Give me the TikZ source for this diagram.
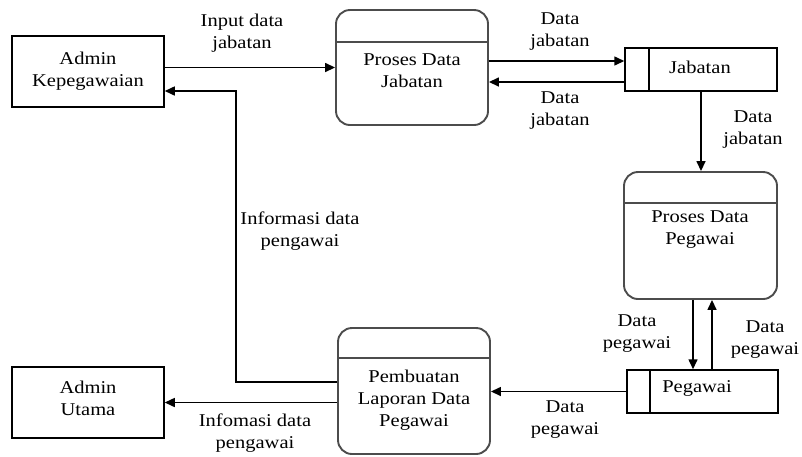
\documentclass[tikz,border=0pt]{standalone}
\usepackage{fontspec}
\setmainfont{Liberation Serif}[FakeStretch=1.14]
\usetikzlibrary{arrows.meta}
\begin{document}
\begin{tikzpicture}[x=1pt,y=-1pt,
  txt/.style={align=center,inner sep=0pt,font=\fontsize{18}{22}\selectfont},
  ext/.style={draw=black,line width=1.5pt,minimum width=152pt,minimum height=71pt,inner sep=0pt},
  proc/.style={draw=black!70,line width=1.9pt,rounded corners=14pt,inner sep=0pt},
  store/.style={draw=black,line width=1.5pt,minimum width=152pt,minimum height=43pt,inner sep=0pt},
  arr/.style={line width=1.5pt,-{Triangle[length=10pt,width=9pt]}},
  ln/.style={line width=1.5pt}]
\useasboundingbox (0,0) rectangle (802,456);
% external entities
\node[ext] (AK) at (88,71.5) {};
\node[txt] (AKt) at (88,71) {Admin\\Kepegawaian};
\node[ext] (AU) at (88,402.5) {};
\node[txt] (AUt) at (88,398) {Admin\\Utama};
% processes
\node[proc,minimum width=152pt,minimum height=115pt] (PDJ) at (412,67.5) {};
\draw[draw=black!70,line width=1.9pt] (PDJ.west |- 0,42) coordinate (pdja) -- (PDJ.east |- pdja);
\node[txt] (PDJt) at (412,71) {Proses Data\\Jabatan};
\node[proc,minimum width=153pt,minimum height=127pt] (PDP) at (700.5,235.5) {};
\draw[draw=black!70,line width=1.9pt] (PDP.west |- 0,203) coordinate (pdpa) -- (PDP.east |- pdpa);
\node[txt] (PDPt) at (700,230) {Proses Data\\Pegawai};
\node[proc,minimum width=152pt,minimum height=126pt] (PB) at (414,391) {};
\draw[draw=black!70,line width=1.9pt] (PB.west |- 0,358) coordinate (pba) -- (PB.east |- pba);
\node[txt] (PBt) at (414,400) {Pembuatan\\Laporan Data\\Pegawai};
% data stores
\node[store] (JB) at (701,69.5) {};
\draw[ln] (649,0 |- JB.north) coordinate (jba) -- (jba |- JB.south);
\node[txt] (JBt) at (700,67) {Jabatan};
\node[store,minimum width=151pt] (PG) at (702.5,391.5) {};
\draw[ln] (650,0 |- PG.north) coordinate (pga) -- (pga |- PG.south);
\node[txt] (PGt) at (697,388) {Pegawai};
% connectors
\draw[arr] (AK.east |- PDJ) -- (PDJ.west);
\coordinate (c1) at (236,91);
\coordinate (c2) at (236,382);
\draw[arr] (PB.west |- c2) -- (c2) -- (c1) -- (AK.east |- c1);
\draw[arr] ([yshift=6.5pt]PDJ.east) -- ([yshift=6.5pt]PDJ.east -| JB.west);
\draw[arr] ([yshift=-12.5pt]JB.west) -- ([yshift=-12.5pt]JB.west -| PDJ.east);
\draw[arr] (JB.south) -- (JB.south |- PDP.north);
\draw[arr] ([xshift=-7.5pt]PDP.south) -- ([xshift=-7.5pt]PDP.south |- PG.north);
\draw[arr] ([xshift=11.5pt]PDP.south |- PG.north) -- ([xshift=11.5pt]PDP.south);
\draw[arr] (PG.west) -- (PG.west -| PB.east);
\draw[arr] (PB.west |- AU) -- (AU.east);
% labels
\node[txt] (l1) at (242,33) {Input data\\jabatan};
\node[txt] (l2) at (560,32) {Data\\jabatan};
\node[txt] (l3) at (560,111) {Data\\jabatan};
\node[txt] (l4) at (753,130) {Data\\jabatan};
\node[txt] (l5) at (300,231) {Informasi data\\pengawai};
\node[txt] (l6) at (637,334) {Data\\pegawai};
\node[txt] (l7) at (765,340) {Data\\pegawai};
\node[txt] (l8) at (565,420) {Data\\pegawai};
\node[txt] (l9) at (255,433) {Infomasi data\\pengawai};
\end{tikzpicture}
\end{document}
